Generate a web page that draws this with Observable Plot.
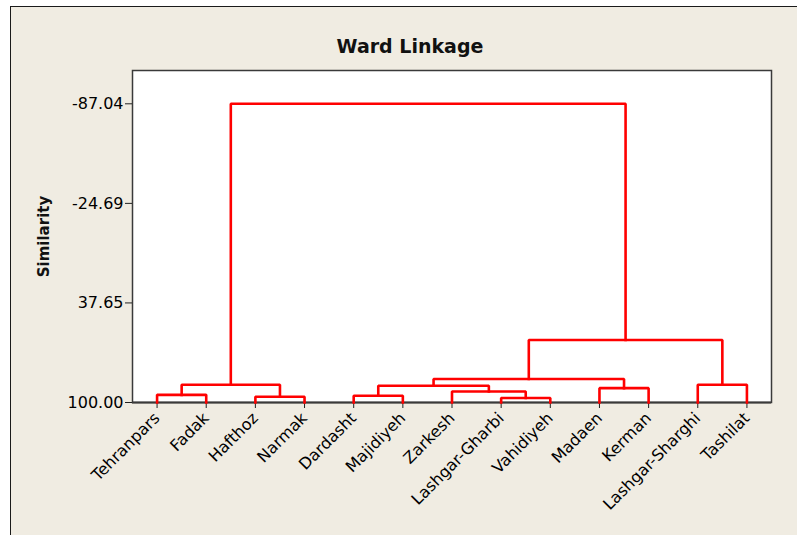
<!DOCTYPE html>
<html>
<head>
<meta charset="utf-8">
<script src="https://cdn.jsdelivr.net/npm/d3@7"></script>
<script src="https://cdn.jsdelivr.net/npm/@observablehq/plot@0.6"></script>
<style>
  html, body { margin: 0; padding: 0; background: #ffffff; }
  #wrap { position: relative; width: 797px; height: 535px; overflow: hidden; }
  #bg { position: absolute; left: 10px; top: 6px; right: -5px; bottom: -5px;
        background: #F0ECE2; border-left: 1.5px solid #1a1a1a; border-top: 1.5px solid #1a1a1a; }
  #chart { position: absolute; left: 0; top: 0; }
</style>
</head>
<body>
<div id="wrap"><div id="bg"></div><div id="chart"></div></div>
<script>
// Leaves (observations) in dendrogram order
const leaves = ["Tehranpars", "Fadak", "Hafthoz", "Narmak", "Dardasht", "Majidiyeh", "Zarkesh",
  "Lashgar-Gharbi", "Vahidiyeh", "Madaen", "Kerman", "Lashgar-Sharghi", "Tashilat"];
// Amalgamation steps: node ids < 13 are leaves, ids >= 13 are earlier steps (13 + step index)
const mergeLeft  = [7, 2, 4, 0, 6, 9, 15, 16, 11, 19, 22, 20];
const mergeRight = [8, 3, 5, 1, 13, 10, 17, 14, 12, 18, 21, 23];
const mergeSimilarity = [97.2, 96.4, 95.8, 95.2, 93.1, 91.0, 89.5, 88.9, 88.9, 85.3, 60.9, -87.04];
// Y axis tick values
const yTicks = [100.00, 37.65, -24.69, -87.04];

// Build node positions and segments
const nodeX = leaves.map((d, i) => i);
const nodeH = leaves.map(() => 100);
const segs = [];
mergeLeft.forEach((l, k) => {
  const r = mergeRight[k], h = mergeSimilarity[k];
  const xl = nodeX[l], xr = nodeX[r];
  segs.push({id: k, x: xl, y: nodeH[l]}, {id: k, x: xl, y: h}, {id: k, x: xr, y: h}, {id: k, x: xr, y: nodeH[r]});
  nodeX.push((xl + xr) / 2);
  nodeH.push(h);
});

const W = 797, H = 535;
const chart = Plot.plot({
  width: W,
  height: H,
  marginLeft: 132,
  marginRight: 26,
  marginTop: 70,
  marginBottom: 133,
  style: {background: "transparent", fontFamily: "DejaVu Sans", color: "#000"},
  x: {domain: [-0.5, leaves.length - 0.5]},
  y: {domain: [100, -107.9]},
  marks: [
    Plot.frame({fill: "white", stroke: "#3a3a3a", strokeWidth: 1.5}),
    Plot.axisY({ticks: yTicks, tickFormat: d => d.toFixed(2), tickSize: 7, tickPadding: 2,
      fontSize: 16, label: null, stroke: "#222"}),
    Plot.axisX({ticks: leaves.map((d, i) => i), tickFormat: i => leaves[i], tickSize: 6,
      tickPadding: 7, tickRotate: -45, fontSize: 16, label: null, stroke: "#222"}),
    Plot.ruleY([100], {stroke: "#3a3a3a", strokeWidth: 2}),
    Plot.line(segs, {x: "x", y: "y", z: "id", stroke: "#ff0000", strokeWidth: 2.6,
      strokeLinejoin: "miter", strokeLinecap: "square"}),
    Plot.text(["Ward Linkage"], {frameAnchor: "top", dx: -42, dy: -18, lineAnchor: "bottom",
      fontSize: 19, fontWeight: "bold", fill: "#111"}),
    Plot.text(["Similarity"], {frameAnchor: "left", dx: -88, rotate: -90, textAnchor: "middle",
      lineAnchor: "middle", fontSize: 15, fontWeight: "bold", fill: "#111"})
  ]
});
document.getElementById("chart").appendChild(chart);
</script>
</body>
</html>
